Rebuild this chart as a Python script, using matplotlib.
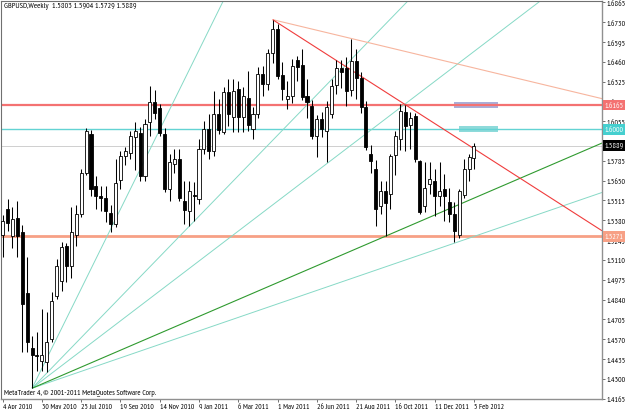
import matplotlib
matplotlib.use("Agg")
import matplotlib.pyplot as plt
import matplotlib.transforms as mtransforms
from matplotlib.patches import Rectangle

plt.rcParams['font.family'] = ['PT Sans Narrow', 'DejaVu Sans']

# weekly GBPUSD bars, 4 Apr 2010 .. 5 Feb 2012 (index = week number)
opens = [1.5280, 1.5457, 1.5271, 1.5396, 1.5300, 1.4885, 1.4510, 1.4465, 1.4424, 1.4413,
         1.4572, 1.4862, 1.4967, 1.5203, 1.5071, 1.5281, 1.5423, 1.5702, 1.5968, 1.5616,
         1.5543, 1.5530, 1.5430, 1.5355, 1.5657, 1.5820, 1.5840, 1.5950, 1.5975, 1.5684,
         1.6050, 1.6188, 1.6145, 1.5968, 1.5593, 1.5764, 1.5798, 1.5514, 1.5445, 1.5555,
         1.5525, 1.5866, 1.6002, 1.5854, 1.6104, 1.5984, 1.6252, 1.6082, 1.6274, 1.6082,
         1.6211, 1.6002, 1.6104, 1.6377, 1.6309, 1.6520, 1.6680, 1.6370, 1.6206, 1.6229,
         1.6470, 1.6440, 1.6229, 1.6161, 1.5956, 1.6070, 1.5990, 1.6104, 1.6300, 1.6420,
         1.6420, 1.6270, 1.6463, 1.6350, 1.6150, 1.5830, 1.5730, 1.5479, 1.5580, 1.5560,
         1.5823, 1.5934, 1.6120, 1.6030, 1.6093, 1.5786, 1.5480, 1.5628, 1.5650, 1.5548,
         1.5593, 1.5503, 1.5423, 1.5282, 1.5555, 1.5730, 1.5803]
highs = [1.5416, 1.5525, 1.5469, 1.5514, 1.5348, 1.5130, 1.4590, 1.4619, 1.4776, 1.4754,
         1.4890, 1.5116, 1.5230, 1.5225, 1.5469, 1.5485, 1.5730, 1.6010, 1.5998, 1.5684,
         1.5616, 1.5612, 1.5484, 1.5798, 1.5854, 1.5880, 1.5990, 1.6050, 1.6015, 1.6070,
         1.6297, 1.6270, 1.6170, 1.6010, 1.5832, 1.5866, 1.5866, 1.5650, 1.5650, 1.5639,
         1.5934, 1.6058, 1.6104, 1.6263, 1.6206, 1.6286, 1.6343, 1.6343, 1.6331, 1.6288,
         1.6399, 1.6150, 1.6422, 1.6433, 1.6550, 1.6747, 1.6720, 1.6460, 1.6330, 1.6479,
         1.6500, 1.6545, 1.6340, 1.6200, 1.6100, 1.6120, 1.6190, 1.6340, 1.6470, 1.6470,
         1.6490, 1.6615, 1.6547, 1.6390, 1.6190, 1.5890, 1.5790, 1.5650, 1.5650, 1.5830,
         1.5985, 1.6172, 1.6166, 1.6120, 1.6110, 1.5790, 1.5775, 1.5775, 1.5730, 1.5775,
         1.5695, 1.5600, 1.5503, 1.5590, 1.5798, 1.5832, 1.5904]
lows = [1.5130, 1.5307, 1.5189, 1.5128, 1.4483, 1.4481, 1.4236, 1.4353, 1.4356, 1.4349,
        1.4551, 1.4844, 1.4900, 1.4960, 1.4990, 1.5207, 1.5400, 1.5689, 1.5548, 1.5457,
        1.5445, 1.5370, 1.5298, 1.5332, 1.5593, 1.5760, 1.5800, 1.5720, 1.5650, 1.5648,
        1.5956, 1.6070, 1.5955, 1.5575, 1.5510, 1.5700, 1.5511, 1.5355, 1.5343, 1.5375,
        1.5491, 1.5832, 1.5800, 1.5820, 1.5968, 1.5968, 1.6024, 1.5979, 1.5979, 1.5981,
        1.5990, 1.5934, 1.6080, 1.6230, 1.6270, 1.6450, 1.6340, 1.6200, 1.6138, 1.6180,
        1.6330, 1.6200, 1.6080, 1.5934, 1.5810, 1.5950, 1.5780, 1.6080, 1.6240, 1.6280,
        1.6160, 1.6230, 1.6206, 1.6110, 1.5860, 1.5700, 1.5343, 1.5423, 1.5271, 1.5460,
        1.5690, 1.5860, 1.5850, 1.5866, 1.5775, 1.5420, 1.5434, 1.5560, 1.5411, 1.5480,
        1.5377, 1.5366, 1.5230, 1.5260, 1.5530, 1.5650, 1.5729]
closes = [1.5376, 1.5362, 1.5389, 1.5271, 1.4810, 1.4549, 1.4465, 1.4456, 1.4465, 1.4553,
          1.4832, 1.5071, 1.5196, 1.5067, 1.5298, 1.5423, 1.5702, 1.5990, 1.5593, 1.5548,
          1.5530, 1.5445, 1.5355, 1.5634, 1.5820, 1.5850, 1.5954, 1.5990, 1.5680, 1.6036,
          1.6184, 1.6111, 1.5975, 1.5593, 1.5777, 1.5798, 1.5530, 1.5452, 1.5582, 1.5544,
          1.5866, 1.6002, 1.5854, 1.6104, 1.5998, 1.6252, 1.6104, 1.6263, 1.6082, 1.6229,
          1.6029, 1.6104, 1.6377, 1.6309, 1.6520, 1.6680, 1.6365, 1.6274, 1.6229, 1.6433,
          1.6425, 1.6220, 1.6184, 1.5956, 1.6070, 1.6000, 1.6150, 1.6297, 1.6420, 1.6390,
          1.6260, 1.6463, 1.6347, 1.6150, 1.5880, 1.5786, 1.5457, 1.5582, 1.5500, 1.5816,
          1.5955, 1.6127, 1.6025, 1.6075, 1.5798, 1.5434, 1.5598, 1.5662, 1.5548, 1.5582,
          1.5548, 1.5423, 1.5309, 1.5578, 1.5730, 1.5809, 1.5889]

date_idx = [0, 8, 16, 24, 32, 40, 48, 56, 64, 72, 80, 88, 96]
date_labels = ['4 Apr 2010', '30 May 2010', '25 Jul 2010', '19 Sep 2010', '14 Nov 2010',
               '9 Jan 2011', '6 Mar 2011', '1 May 2011', '26 Jun 2011', '21 Aug 2011',
               '16 Oct 2011', '11 Dec 2011', '5 Feb 2012']

price_ticks = [1.6865, 1.6730, 1.6595, 1.6460, 1.6325, 1.6190, 1.6055, 1.5920, 1.5785,
               1.5650, 1.5515, 1.5380, 1.5245, 1.5110, 1.4975, 1.4840, 1.4705, 1.4570,
               1.4435, 1.4300, 1.4165]

# horizontal levels (price, colour, width)
levels = [(1.5271, '#F7A085', 2.0), (1.6165, '#F47272', 1.6), (1.6000, '#63D3D3', 1.0),
          (1.5889, '#C8C8C8', 0.6)]
level_boxes = [(1.6165, '#F47272', 'white'), (1.6000, '#45CFCF', 'white'),
               (1.5889, 'black', 'white'), (1.5271, '#F7A085', 'white')]

# trend lines as two anchor points (bar, price), drawn as rays
red_line = [(55, 1.6747), (96, 1.5868)]
salmon_line = [(55, 1.6747), (96, 1.6418)]
green_line = [(6, 1.4236), (78, 1.5272)]
fan_origin = (6, 1.4236)
fan_points = [(39.8, 1.6526), (66.7, 1.6328), (66.7, 1.5783), (113.5, 1.5471)]

# rectangles: (bar0, bar1, price0, price1, colour)
boxes = [(91.9, 100.8, 1.6143, 1.6188, '#A9AED8'),
         (93.0, 100.8, 1.5979, 1.6024, '#8EDADA')]

title = 'GBPUSD,Weekly  1.5803 1.5904 1.5729 1.5889'
copyright_txt = 'MetaTrader 4, \u00a9 2001-2011 MetaQuotes Software Corp.'

W, H = 625, 410
fig = plt.figure(figsize=(W / 100, H / 100), dpi=100)
ax = fig.add_axes([1 / W, 10 / H, 601 / W, 398 / H])
xmin, xmax = -0.326, 122.08
ax.set_xlim(xmin, xmax)
ax.set_ylim(1.41627, 1.68739)
ax.set_facecolor('white')


def ray(p0, p1, **kw):
    (x0, y0), (x1, y1) = p0, p1
    slope = (y1 - y0) / (x1 - x0)
    ax.plot([x0, xmax], [y0, y0 + slope * (xmax - x0)], solid_capstyle='butt', **kw)


for b0, b1, p0, p1, col in boxes:
    ax.add_patch(Rectangle((b0, p0), b1 - b0, p1 - p0, facecolor=col, edgecolor='none', zorder=1.5))

for price, col, lw in levels:
    ax.axhline(price, color=col, lw=lw, zorder=2)

for pt in fan_points:
    ray(fan_origin, pt, color='#86D9C6', lw=0.7, zorder=2)
ray(*green_line, color='#2F9A2F', lw=0.8, zorder=2)
ray(*salmon_line, color='#F7B59E', lw=0.8, zorder=2)
ray(*red_line, color='#F03C3C', lw=0.8, zorder=2)

# candles
for i, (o, h, l, c) in enumerate(zip(opens, highs, lows, closes)):
    ax.vlines(i, l, h, color='black', lw=0.75, zorder=3)
    bull = c >= o
    body = max(abs(c - o), 0.00006)
    ax.bar(i, body, bottom=min(o, c), width=0.62, color='white' if bull else 'black',
           edgecolor='black', linewidth=0.6, zorder=4)

# axes styling
for side in ['left', 'top']:
    ax.spines[side].set_color('#707070')
    ax.spines[side].set_linewidth(0.8)
for side in ['right', 'bottom']:
    ax.spines[side].set_color('#909090')
    ax.spines[side].set_linewidth(1.0)

ax.yaxis.tick_right()
ax.set_yticks(price_ticks)
ax.set_yticklabels(['%.4f' % p for p in price_ticks])
ax.tick_params(axis='y', length=2.5, width=0.7, color='#707070', pad=1, labelsize=5.7)
ax.set_xticks(date_idx)
ax.set_xticklabels(date_labels, ha='left')
ax.tick_params(axis='x', length=2.5, width=0.7, color='#707070', pad=0.5, labelsize=5.5)

tr = mtransforms.blended_transform_factory(ax.transAxes, ax.transData)
for price, fc, tc in level_boxes:
    ax.text(1.0 + 2.5 / 601, price, '%.4f' % price, transform=tr, ha='left', va='center',
            fontsize=5.7, color=tc, zorder=10, clip_on=False,
            bbox=dict(boxstyle='square,pad=0.22', fc=fc, ec='none'))

fig.text(4 / W, 1 - 7 / H, title, fontsize=5.9, ha='left', va='center')
fig.text(4 / W, 1 - 394 / H, copyright_txt, fontsize=5.7, ha='left', va='center')

fig.savefig('out.png', dpi=100, facecolor='white')
